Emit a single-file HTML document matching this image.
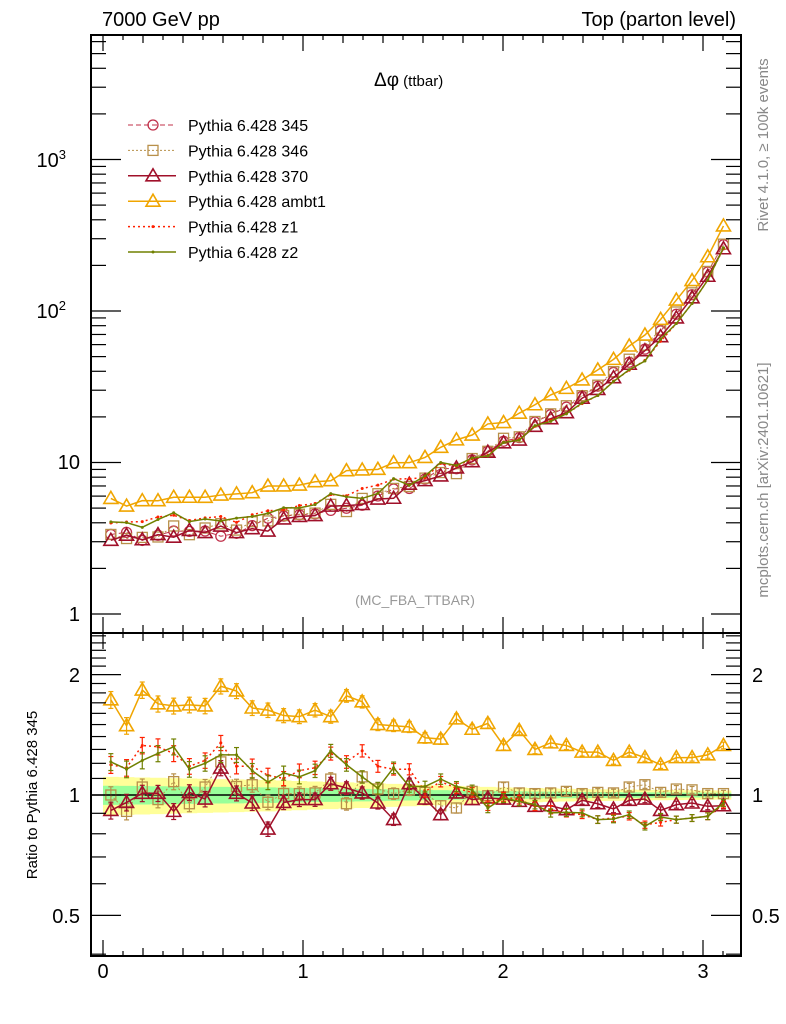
<!DOCTYPE html>
<html><head><meta charset="utf-8"><style>
body{margin:0;background:#fff}
svg{display:block;font-family:"Liberation Sans",sans-serif}
</style></head><body>
<svg id="c" width="786" height="1024" viewBox="0 0 786 1024" xmlns="http://www.w3.org/2000/svg"></svg>
<script>
const refValues=[3.35,3.46,3.06,3.31,3.53,3.51,3.53,3.26,3.41,3.83,4.29,4.43,4.52,4.58,4.83,4.99,5.22,6.01,6.69,6.74,7.77,9.13,9.10,10.4,11.9,13.8,14.6,18.5,20.7,23.2,27.4,31.9,39.3,45.9,56.0,74.0,95.2,128,181,274];
const ratio346=[1.0,0.91,1.047,0.974,1.08,0.951,1.047,1.21,1.05,1.061,0.959,1.008,1.008,1.012,1.096,0.951,1.11,1.035,1.008,1.03,1.015,0.94,0.928,1.021,0.996,1.047,1.012,1.008,1.012,1.021,1.008,1.015,1.012,1.047,1.061,1.015,1.035,1.03,1.008,1.008];
const ratio370=[0.915,0.958,1.01,1.01,0.91,1.015,0.977,1.168,1.01,0.955,0.822,0.958,0.974,0.974,1.067,1.041,1.012,0.955,0.868,1.067,0.977,0.893,1.012,0.974,0.983,0.977,0.964,0.937,0.94,0.919,0.97,0.951,0.923,0.97,0.977,0.915,0.946,0.955,0.937,0.94];
const ratioAmbt1=[1.73,1.49,1.83,1.69,1.67,1.68,1.67,1.87,1.82,1.65,1.63,1.58,1.57,1.63,1.57,1.77,1.71,1.50,1.49,1.48,1.39,1.38,1.55,1.46,1.51,1.33,1.45,1.30,1.35,1.33,1.28,1.28,1.22,1.28,1.24,1.19,1.24,1.24,1.26,1.33];
const ratioZ1=[1.19,1.17,1.33,1.32,1.27,1.18,1.22,1.35,1.18,1.18,1.12,1.10,1.15,1.17,1.27,1.21,1.29,1.18,1.16,1.16,1.02,1.08,1.04,1.015,0.94,0.99,0.974,0.937,0.919,0.902,0.893,0.868,0.876,0.885,0.843,0.854,0.868,0.876,0.885,0.946];
const ratioZ2=[1.21,1.16,1.22,1.27,1.32,1.16,1.20,1.26,1.26,1.15,1.076,1.135,1.11,1.15,1.29,1.19,1.11,1.04,1.17,1.05,1.05,1.096,1.05,1.03,0.928,0.983,0.964,0.946,0.902,0.905,0.902,0.868,0.871,0.893,0.835,0.881,0.868,0.876,0.885,0.955];
const relErr=[0.11,0.108,0.106,0.104,0.102,0.1,0.098,0.096,0.094,0.092,0.09,0.087,0.084,0.081,0.078,0.075,0.072,0.069,0.066,0.063,0.06,0.057,0.054,0.051,0.048,0.045,0.043,0.041,0.039,0.037,0.035,0.034,0.033,0.032,0.031,0.03,0.029,0.028,0.027,0.026];
const xTickLabels=["0","1","2","3"];
const nBins=40, binW=Math.PI/40;

const svg=document.getElementById('c');
const NS="http://www.w3.org/2000/svg";
function mk(tag,attrs,parent){const e=document.createElementNS(NS,tag);for(const k in attrs)e.setAttribute(k,attrs[k]);(parent||svg).appendChild(e);return e;}
const L=91,R=741,T=35,MB=633,B=956;
const X=v=>103+v*200;
const Ym=v=>614-Math.log10(v)*151.5;
const Yr=v=>795-Math.log10(v)*400;

const gBand=mk('g',{});


let up=[],dn=[],up2=[],dn2=[];
for(let i=0;i<nBins;i++){const x0=X(i*binW),x1=X((i+1)*binW);
 up.push(x0+','+Yr(1+relErr[i]),x1+','+Yr(1+relErr[i]));
 dn.unshift(x1+','+Yr(1-relErr[i]),x0+','+Yr(1-relErr[i]));
 up2.push(x0+','+Yr(1+relErr[i]*0.5),x1+','+Yr(1+relErr[i]*0.5));
 dn2.unshift(x1+','+Yr(1-relErr[i]*0.5),x0+','+Yr(1-relErr[i]*0.5));}
mk('polygon',{points:up.concat(dn).join(' '),fill:'#ffff99'},gBand);
mk('polygon',{points:up2.concat(dn2).join(' '),fill:'#99ff99'},gBand);
mk('line',{x1:L,x2:R,y1:Yr(1),y2:Yr(1),stroke:'#000','stroke-width':1.5},gBand);

const series=[
 {name:'345',ratio:null,color:'#c0304a',dash:'5,3',marker:'circle',w:1},
 {name:'346',ratio:ratio346,color:'#b8904a',dash:'2,2',marker:'square',w:1},
 {name:'370',ratio:ratio370,color:'#a0102a',dash:'',marker:'triangle',w:1.5},
 {name:'ambt1',ratio:ratioAmbt1,color:'#f0a500',dash:'',marker:'triangle',w:1.5},
 {name:'z1',ratio:ratioZ1,color:'#ff2000',dash:'2,3',marker:'dot',w:1.5},
 {name:'z2',ratio:ratioZ2,color:'#708000',dash:'',marker:'dot',w:1.5}];
function marker(g,type,x,y,c){
 if(type==='circle')mk('circle',{cx:x,cy:y,r:5,fill:'none',stroke:c,'stroke-width':1.3},g);
 else if(type==='square')mk('rect',{x:x-5,y:y-5,width:10,height:10,fill:'none',stroke:c,'stroke-width':1.3},g);
 else if(type==='triangle')mk('polygon',{points:`${x},${y-7} ${x-7},${y+5} ${x+7},${y+5}`,fill:'none',stroke:c,'stroke-width':1.6},g);
 else mk('circle',{cx:x,cy:y,r:1.5,fill:c},g);}
series.forEach((s,si)=>{
 const gm=mk('g',{});
 
 
 const gr=mk('g',{});
 
 
 let pm=[],pr=[];
 for(let i=0;i<nBins;i++){const r=s.ratio?s.ratio[i]:1;const x=X((i+0.5)*binW);
  pm.push(x+','+Ym(refValues[i]*r));pr.push(x+','+Yr(r));}
 mk('polyline',{points:pm.join(' '),fill:'none',stroke:s.color,'stroke-width':s.w,'stroke-dasharray':s.dash},gm);
 if(s.ratio)mk('polyline',{points:pr.join(' '),fill:'none',stroke:s.color,'stroke-width':s.w,'stroke-dasharray':s.dash},gr);
 for(let i=0;i<nBins;i++){const r=s.ratio?s.ratio[i]:1;const x=X((i+0.5)*binW);
  marker(gm,s.marker,x,Ym(refValues[i]*r),s.color);
  if(s.ratio){const e=relErr[i]*0.35+0.01;const y1=Yr(r*(1+e)),y2=Yr(r*(1-e));
   mk('line',{x1:x,x2:x,y1:y1,y2:y2,stroke:s.color,'stroke-width':1.2},gr);
   mk('line',{x1:x-2.5,x2:x+2.5,y1:y1,y2:y1,stroke:s.color,'stroke-width':1.2},gr);
   mk('line',{x1:x-2.5,x2:x+2.5,y1:y2,y2:y2,stroke:s.color,'stroke-width':1.2},gr);
   marker(gr,s.marker,x,Yr(r),s.color);}}
});

const fr=mk('g',{fill:'none',stroke:'#000','stroke-width':2});


mk('rect',{x:L,y:T,width:R-L,height:MB-T},fr);
mk('rect',{x:L,y:MB,width:R-L,height:B-MB},fr);
const tk=mk('g',{stroke:'#000','stroke-width':1.2});


for(let k=0;k<=31;k++){const v=k/10,x=X(v);if(x>R)break;
 const len=k%10===0?16:(k%2===0?8:5);
 [T,MB].forEach(y=>mk('line',{x1:x,x2:x,y1:y,y2:y+len},tk));
 [MB,B].forEach(y=>mk('line',{x1:x,x2:x,y1:y,y2:y-len},tk));}
for(let d=0;d<4;d++)for(let m=1;m<10;m++){const v=m*Math.pow(10,d),y=Ym(v);if(y<T)continue;
 const len=m===1?30:15;mk('line',{x1:L,x2:L+len,y1:y,y2:y},tk);mk('line',{x1:R,x2:R-len,y1:y,y2:y},tk);}
for(let v=0.4;v<2.6;v+=0.1){const y=Yr(v);if(y<MB||y>B)continue;
 const maj=Math.abs(v-1)<0.01||Math.abs(v-2)<0.01||Math.abs(v-0.5)<0.01;const len=maj?30:15;
 mk('line',{x1:L,x2:L+len,y1:y,y2:y},tk);mk('line',{x1:R,x2:R-len,y1:y,y2:y},tk);}
function txt(s,x,y,o,name){const t=mk('text',Object.assign({x:x,y:y,'font-size':20,fill:'#000'},o||{}));t.textContent=s;
 
 return t;}
xTickLabels.forEach((s,i)=>txt(s,X(i),978,{'text-anchor':'middle'},'x-tick-label'));
txt('1',80,621,{'text-anchor':'end'},'y-tick-label');
txt('10',80,469,{'text-anchor':'end'},'y-tick-label');
const t2=txt('10',66,318,{'text-anchor':'end'},'y-tick-label');const s2=mk('tspan',{dy:-8,'font-size':13},t2);s2.textContent='2';
const t3=txt('10',66,167,{'text-anchor':'end'},'y-tick-label');const s3=mk('tspan',{dy:-8,'font-size':13},t3);s3.textContent='3';
[['2',682],['1',802],['0.5',923]].forEach(a=>{txt(a[0],80,a[1],{'text-anchor':'end'},'ratio-tick-label');txt(a[0],752,a[1],{},'ratio-tick-label');});
txt('7000 GeV pp',102,26,{},'energy-label');
txt('Top (parton level)',736,26,{'text-anchor':'end'},'process-label');
const ti=txt('Δφ',374,86,{'font-size':19},'plot-title');const ts=mk('tspan',{'font-size':15},ti);ts.textContent=' (ttbar)';
txt('(MC_FBA_TTBAR)',415,605,{'font-size':14,fill:'#999','text-anchor':'middle'},'analysis-label');
txt('Rivet 4.1.0, ≥ 100k events',0,0,{'font-size':15,fill:'#888','text-anchor':'middle',transform:'translate(768,145) rotate(-90)'},'rivet-label');
txt('mcplots.cern.ch [arXiv:2401.10621]',0,0,{'font-size':15,fill:'#888','text-anchor':'middle',transform:'translate(768,480) rotate(-90)'},'mcplots-label');
txt('Ratio to Pythia 6.428 345',0,0,{'font-size':15,'text-anchor':'middle',transform:'translate(37,795) rotate(-90)'},'ratio-axis-title');
series.forEach((s,i)=>{const y=125+i*25.4;const g=mk('g',{});
 
 
 mk('line',{x1:128,x2:176,y1:y,y2:y,stroke:s.color,'stroke-width':s.w,'stroke-dasharray':s.dash},g);
 marker(g,s.marker,153,y,s.color);
 const t=mk('text',{x:188,y:y+6,'font-size':16},g);t.textContent='Pythia 6.428 '+s.name;});
</script>
</body></html>
